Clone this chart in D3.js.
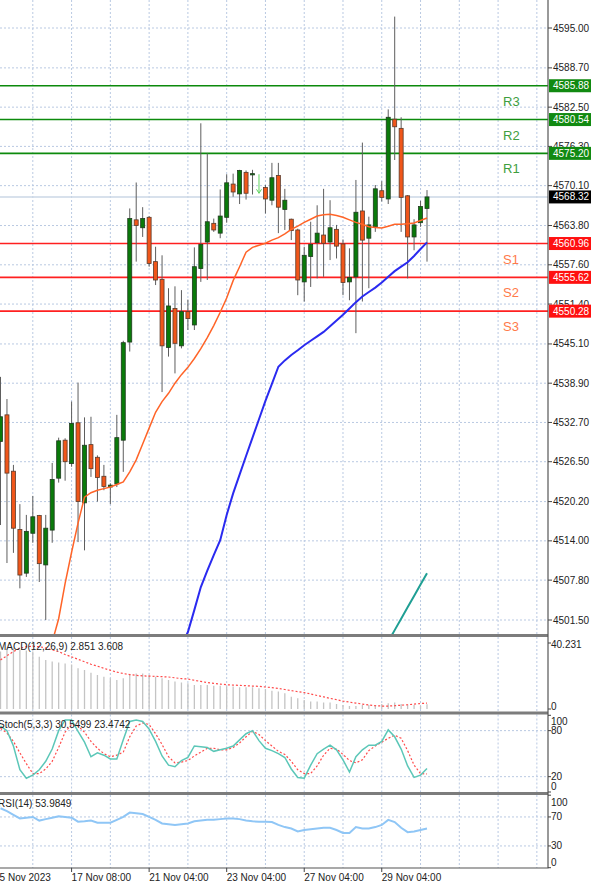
<!DOCTYPE html>
<html><head><meta charset="utf-8">
<script src="https://cdn.jsdelivr.net/npm/d3@7"></script>
<style>body{margin:0;background:#fff}svg{display:block}text{font-family:"Liberation Sans",Arial,sans-serif}</style>
</head><body><svg id="c" width="600" height="884"></svg>
<script>
// ---------- DATA ----------
const opens =[4529.7,4533.9,4525.0,4515.8,4508.9,4515.2,4518.0,4510.2,4515.7,4523.9,4529.9,4526.2,4532.65,4520.0,4529.2,4527.2,4524.2,4522.5,4523.0,4529.9,4545.4,4564.7,4563.45,4565.1,4558.1,4555.3,4544.55,4550.7,4544.8,4550.2,4548.1,4557.0,4561.2,4564.15,4562.6,4565.1,4570.35,4568.8,4572.2,4571.8,4569.5,4569.8,4567.8,4571.7,4566.35,4564.8,4563.1,4554.9,4558.9,4561.1,4562.3,4561.2,4563.2,4560.9,4554.9,4555.7,4566.1,4561.8,4563.6,4569.3,4568.0,4580.6,4579.15,4568.5,4562.0,4564.25,4566.5];
const highs =[4539.9,4536.4,4526.0,4519.8,4518.1,4521.1,4518.1,4518.1,4526.3,4530.3,4530.2,4536.0,4539.0,4533.5,4533.6,4527.5,4526.0,4523.1,4533.9,4545.6,4566.5,4570.6,4566.7,4565.3,4560.45,4559.1,4553.9,4554.2,4553.6,4552.1,4560.35,4579.95,4575.2,4564.9,4569.5,4571.9,4572.0,4572.6,4572.5,4572.6,4571.9,4570.2,4573.7,4573.7,4569.6,4564.9,4563.3,4560.45,4564.4,4567.0,4569.6,4567.8,4563.9,4561.6,4560.2,4571.0,4576.9,4565.2,4570.2,4570.8,4582.15,4596.8,4580.9,4568.6,4564.8,4567.7,4569.4];
const lows  =[4516.5,4510.5,4512.1,4506.5,4508.3,4513.7,4507.5,4501.5,4513.7,4523.2,4523.5,4525.7,4513.8,4512.5,4524.1,4520.2,4522.0,4519.8,4522.5,4524.9,4543.9,4558.1,4562.0,4557.3,4554.4,4537.5,4543.1,4540.45,4544.4,4547.3,4547.3,4554.9,4555.2,4562.8,4561.8,4564.25,4568.35,4567.2,4567.9,4568.7,4568.9,4565.7,4567.0,4562.6,4563.1,4561.5,4552.8,4551.8,4554.1,4555.45,4555.7,4558.35,4558.6,4552.8,4552.0,4546.8,4551.8,4553.9,4562.8,4567.6,4567.2,4574.15,4562.8,4555.45,4559.9,4563.6,4558.1];
const closes=[4533.6,4524.7,4516.0,4508.6,4515.5,4517.8,4510.4,4516.0,4523.7,4529.8,4526.5,4532.55,4520.2,4529.1,4525.4,4524.0,4522.6,4522.8,4530.3,4545.3,4564.9,4563.8,4564.9,4557.8,4555.2,4544.8,4551.1,4545.2,4550.2,4549.1,4557.3,4560.8,4564.4,4563.1,4565.3,4570.55,4569.1,4572.5,4568.9,4572.0,4569.4,4568.0,4571.35,4566.7,4567.8,4563.0,4555.2,4559.1,4560.8,4562.6,4561.0,4563.45,4560.55,4554.8,4555.6,4565.9,4561.5,4563.9,4569.6,4568.25,4580.9,4579.4,4568.25,4562.0,4563.9,4566.8,4568.32];
const arrowIdx=[40];
const N=null;
const maFast=[N,N,N,N,N,N,N,N,4498.0,4501.7,4507.3,4512.2,4516.8,4520.9,4521.6,4522.0,4522.25,4522.5,4522.9,4523.3,4524.9,4526.8,4529.3,4531.8,4534.3,4536.0,4537.3,4538.9,4540.25,4541.4,4542.8,4544.35,4546.1,4548.0,4550.1,4552.35,4555.1,4557.3,4559.6,4560.35,4560.7,4561.0,4561.5,4561.9,4562.5,4563.2,4563.7,4564.3,4564.8,4565.3,4565.5,4565.6,4565.4,4565.1,4564.7,4564.3,4564.0,4563.6,4563.5,4563.4,4563.7,4564.0,4564.0,4564.1,4564.2,4564.6,4565.0];
const maMid=[N,N,N,N,N,N,N,N,N,N,N,N,N,N,N,N,N,N,N,N,N,N,N,N,N,N,N,N,4497.5,4499.6,4503.1,4506.7,4509.3,4511.75,4514.1,4518.1,4521.5,4524.45,4527.4,4530.3,4533.2,4536.1,4538.8,4541.5,4542.5,4543.35,4544.1,4544.9,4545.6,4546.3,4547.0,4547.9,4548.8,4549.7,4550.7,4551.7,4552.6,4553.3,4554.0,4554.8,4555.7,4556.6,4557.3,4558.0,4559.0,4560.1,4561.15];
const maSlowIdx=[60,61,62,63,64,65,66];
const maSlowVal=[4498.1,4499.9,4501.7,4503.5,4505.3,4507.1,4508.9];
const macdHist=[35.0,36.0,37.0,36.0,35.6,35.0,31.9,29.9,28.9,28.3,27.8,27.2,24.8,23.8,22.1,20.7,19.7,18.7,17.7,18.7,20.7,21.7,21.7,20.7,19.7,18.7,17.7,16.7,16.1,15.7,14.7,14.7,14.7,14.1,14.1,13.7,13.7,13.2,13.2,13.2,12.6,12.0,11.2,10.6,9.6,7.5,6.5,5.5,4.5,4.5,3.9,3.9,3.1,2.4,1.8,1.8,2.4,2.4,2.4,3.1,3.5,3.9,3.1,2.4,2.4,1.8,2.851];
const macdSignal=[29.9,32.5,35,37,38,38.2,38,37.2,36,35,33.2,31.8,30.3,28.8,27.3,26.1,24.8,23.6,22.5,21.6,21.0,20.5,20.2,20.0,19.9,19.7,19.5,19.0,18.5,18.3,17.5,16.8,16.1,15.6,15.2,14.8,14.6,14.4,14.2,14.0,13.8,13.4,13.0,12.5,11.9,11.2,10.6,10.0,9.2,8.2,7.4,6.5,5.7,4.8,4.2,3.6,3.0,2.4,2.0,1.8,1.8,2.0,2.3,2.6,3.0,3.3,3.608];
const stochMain=[86,80,60,29,18,22,29,40,56,80,94,94,79,65,46,51,48,43,43,68,92,94,92,82,66,47,35,33,41,45,60,59,58,53,55,57,60,68,76,80,67,57,54,50,45,30,19,18,35,50,56,61,55,42,26,46,55,61,61,66,81,72,56,34,19,22,30.5499];
const stochSignal=[83,77,66,51,37,24,24,30,40,58,78,88,86,78,66,57,50,46,48,52,72,86,90,88,76,62,46,38,39,41,47,52,57,57,55,55,58,64,72,79,75,67,60,53,49,40,29,24,24,34,48,57,56,49,41,38,42,54,60,65,70,74,70,54,35,24,23.4742];
const rsiVals=[82,78,73,68,69,70,65,67,69,71,70,69,63.5,64,65,62,62,62,66,70,76,75,74,70,66,61,60,59,60,61,64,65,66,66,67,68,68,67,65,64,63.5,63.5,63,59,56,54,50,52,53,54,55,55,52,48,48,56,54,54,56,59,66,63,55,49,50,52,53.9849];
const priceTicks=[4595.00,4588.70,4582.50,4576.30,4570.10,4563.80,4557.60,4551.40,4545.10,4538.90,4532.70,4526.50,4520.20,4514.00,4507.80,4501.50];
const levelNames=["R3","R2","R1","S1","S2","S3"];
const levelValues=[4585.88,4580.54,4575.20,4560.96,4555.62,4550.28];
const lastPrice=4568.32;
const timeTickIdx=[-1,11,23,35,47,59];
const timeTickLabels=["15 Nov 2023","17 Nov 08:00","21 Nov 04:00","23 Nov 04:00","27 Nov 04:00","29 Nov 04:00"];
const macdTicks=[40.231,0];
const stochTicks=[100,80,20,0];
const rsiTicks=[100,70,30,0];
const macdTitle="MACD(12,26,9) 2.851 3.608";
const stochTitle="Stoch(5,3,3) 30.5499 23.4742";
const rsiTitle="RSI(14) 53.9849";

// ---------- LAYOUT ----------
const svg=d3.select("#c");
const R=548;
const P={main:[0,634],macd:[637,711.5],stoch:[714.5,792],rsi:[795,868]};
const x=d3.scaleLinear().domain([0,66]).range([0.5,427]);
const yP=d3.scaleLinear().domain([4501.5,4595]).range([620,28]);
const yM=d3.scaleLinear().domain([0,40.231]).range([709,643]);
const yS=d3.scaleLinear().domain([0,100]).range([792,715.3]);
const yR=d3.scaleLinear().domain([0,100]).range([867.7,795.2]);
const gridColor="#b9c9e2";

const defs=svg.append("defs");
Object.entries(P).forEach(([k,[t,b]])=>{
  defs.append("clipPath").attr("id","clip-"+k).append("rect").attr("x",0).attr("y",t).attr("width",R).attr("height",b-t);
});

// vertical grid
const vIdx=d3.range(5,86,6);
Object.values(P).forEach(([t,b])=>{
  svg.append("g").selectAll("line").data(vIdx).join("line")
    .attr("x1",d=>x(d)).attr("x2",d=>x(d)).attr("y1",t).attr("y2",b)
    .attr("stroke",gridColor).attr("stroke-dasharray","2,2").attr("stroke-width",1);
});
// horizontal grid main
svg.append("g").selectAll("line").data(priceTicks).join("line")
  .attr("x1",0).attr("x2",R).attr("y1",d=>yP(d)).attr("y2",d=>yP(d))
  .attr("stroke",gridColor).attr("stroke-dasharray","2,2");
[[yS,[80,20]],[yR,[70,30]]].forEach(([s,vals])=>{
  svg.append("g").selectAll("line").data(vals).join("line")
    .attr("x1",0).attr("x2",R).attr("y1",d=>s(d)).attr("y2",d=>s(d))
    .attr("stroke",gridColor).attr("stroke-dasharray","2,2");
});

// main panel content
const gm=svg.append("g").attr("clip-path","url(#clip-main)");
gm.append("line").attr("x1",0).attr("x2",R).attr("y1",yP(lastPrice)).attr("y2",yP(lastPrice))
  .attr("stroke","#cbd7e6").attr("stroke-width",1.5);
gm.selectAll("line.lvl").data(levelValues).join("line").attr("class","lvl")
  .attr("x1",0).attr("x2",R).attr("y1",d=>yP(d)).attr("y2",d=>yP(d))
  .attr("stroke",(d,i)=>i<3?"#0c8a0c":"#ff2020").attr("stroke-width",1.6);
gm.selectAll("text.lvl").data(levelNames).join("text").attr("class","lvl")
  .attr("x",503).attr("y",(d,i)=>yP(levelValues[i])+15.5).attr("dy","0.35em")
  .attr("font-size",13).attr("fill",(d,i)=>i<3?"#3e9e3e":"#ff7a4a").text(d=>d);

const candles=opens.map((o,i)=>({i,o,h:highs[i],l:lows[i],c:closes[i]})).filter(d=>!arrowIdx.includes(d.i));
const cg=gm.append("g");
cg.selectAll("line").data(candles).join("line")
  .attr("x1",d=>x(d.i)).attr("x2",d=>x(d.i)).attr("y1",d=>yP(d.h)).attr("y2",d=>yP(d.l))
  .attr("stroke","#5e5e5e").attr("stroke-width",1);
cg.selectAll("rect").data(candles).join("rect")
  .attr("x",d=>x(d.i)-2).attr("width",4)
  .attr("y",d=>yP(Math.max(d.o,d.c))).attr("height",d=>Math.max(1,Math.abs(yP(d.o)-yP(d.c))))
  .attr("fill",d=>d.c>=d.o?"#0a7a0a":"#f0561a")
  .attr("stroke",d=>d.c>=d.o?"#1f3a1f":"#5a3a2a").attr("stroke-width",0.8);
arrowIdx.forEach(i=>{
  const xx=x(i), yt=yP(highs[i]), yb=yP(lows[i]);
  gm.append("line").attr("x1",xx).attr("x2",xx).attr("y1",yt).attr("y2",yb).attr("stroke","#5fd35f").attr("stroke-width",1);
  gm.append("path").attr("d",`M${xx-2.5},${yb-4}L${xx},${yb}L${xx+2.5},${yb-4}`).attr("fill","none").attr("stroke","#5fd35f").attr("stroke-width",1);
});
const lineP=d3.line().defined(d=>d.v!=null).x(d=>x(d.i)).y(d=>yP(d.v));
gm.append("path").datum(maFast.map((v,i)=>({i,v}))).attr("d",lineP).attr("fill","none").attr("stroke","#ff6428").attr("stroke-width",1.5);
gm.append("path").datum(maMid.map((v,i)=>({i,v}))).attr("d",lineP).attr("fill","none").attr("stroke","#2a2af0").attr("stroke-width",2);
gm.append("path").datum(maSlowIdx.map((i,k)=>({i,v:maSlowVal[k]}))).attr("d",lineP).attr("fill","none").attr("stroke","#1f9f94").attr("stroke-width",2);

// MACD
const gmc=svg.append("g").attr("clip-path","url(#clip-macd)");
gmc.selectAll("line").data(macdHist).join("line")
  .attr("x1",(d,i)=>x(i)).attr("x2",(d,i)=>x(i)).attr("y1",yM(0)).attr("y2",d=>yM(d))
  .attr("stroke","#c4c4c4").attr("stroke-width",1.3);
gmc.append("path").datum(macdSignal).attr("d",d3.line().x((d,i)=>x(i)).y(d=>yM(d)))
  .attr("fill","none").attr("stroke","#ff4a4a").attr("stroke-width",1.2).attr("stroke-dasharray","2,2");
// Stoch
const gs=svg.append("g").attr("clip-path","url(#clip-stoch)");
gs.append("path").datum(stochSignal).attr("d",d3.line().x((d,i)=>x(i)).y(d=>yS(d)))
  .attr("fill","none").attr("stroke","#ff4a4a").attr("stroke-width",1.2).attr("stroke-dasharray","2,2");
gs.append("path").datum(stochMain).attr("d",d3.line().x((d,i)=>x(i)).y(d=>yS(d)))
  .attr("fill","none").attr("stroke","#5cc7b8").attr("stroke-width",1.5);
// RSI
const gr=svg.append("g").attr("clip-path","url(#clip-rsi)");
gr.append("path").datum(rsiVals).attr("d",d3.line().x((d,i)=>x(i)).y(d=>yR(d)))
  .attr("fill","none").attr("stroke","#8fc6f6").attr("stroke-width",2);

// panel titles
[[macdTitle,646],[stochTitle,724],[rsiTitle,803]].forEach(([t,y])=>{
  svg.append("text").attr("x",-2).attr("y",y).attr("dy","0.35em").attr("font-size",10).attr("fill","#222").text(t);
});

// separators and borders
[[634,637],[711.5,714.5],[792,795]].forEach(([a,b])=>{
  svg.append("rect").attr("x",0).attr("y",a).attr("width",R).attr("height",b-a).attr("fill","#7c7c7c");
});
svg.append("line").attr("x1",0).attr("x2",R+0.5).attr("y1",868).attr("y2",868).attr("stroke","#555").attr("stroke-width",1.2);
svg.append("line").attr("x1",R).attr("x2",R).attr("y1",0).attr("y2",868).attr("stroke","#555").attr("stroke-width",1.2);

// price axis
const pa=svg.append("g");
pa.selectAll("line").data(priceTicks).join("line").attr("x1",R).attr("x2",R+4).attr("y1",d=>yP(d)).attr("y2",d=>yP(d)).attr("stroke","#444");
pa.selectAll("text").data(priceTicks).join("text").attr("x",553).attr("y",d=>yP(d)).attr("dy","0.35em")
  .attr("font-size",10).attr("fill","#222").text(d=>d3.format(".2f")(d));
const boxes=levelValues.map((v,i)=>({v,c:i<3?"#118a11":"#ff1010"})).concat([{v:lastPrice,c:"#000"}]);
const bg=svg.append("g");
bg.selectAll("rect").data(boxes).join("rect").attr("x",549).attr("y",d=>yP(d.v)-6.5).attr("width",42).attr("height",13).attr("fill",d=>d.c);
bg.selectAll("text").data(boxes).join("text").attr("x",553).attr("y",d=>yP(d.v)).attr("dy","0.35em")
  .attr("font-size",10).attr("fill","#fff").text(d=>d3.format(".2f")(d.v));

// indicator axes
function subAxis(scale,ticks,[t,b],fmt){
  const g=svg.append("g");
  g.selectAll("line").data(ticks).join("line").attr("x1",R).attr("x2",R+3)
    .attr("y1",d=>scale(d)).attr("y2",d=>scale(d)).attr("stroke","#444");
  g.selectAll("text").data(ticks).join("text").attr("x",551)
    .attr("y",d=>Math.max(t+7,Math.min(b-5.5,scale(d)))).attr("dy","0.35em")
    .attr("font-size",10).attr("fill","#222").text(fmt);
}
subAxis(yM,macdTicks,P.macd,d=>d===0?"0":d3.format(".3f")(d));
subAxis(yS,stochTicks,P.stoch,d=>d);
subAxis(yR,rsiTicks,P.rsi,d=>d);

// time axis
const ta=svg.append("g");
ta.selectAll("line").data(timeTickIdx).join("line").attr("x1",d=>x(d)).attr("x2",d=>x(d)).attr("y1",868).attr("y2",872).attr("stroke","#444");
ta.selectAll("text").data(timeTickIdx).join("text").attr("x",d=>x(d)).attr("y",877).attr("dy","0.35em")
  .attr("font-size",10).attr("fill","#222").text((d,i)=>timeTickLabels[i]);
</script></body></html>
